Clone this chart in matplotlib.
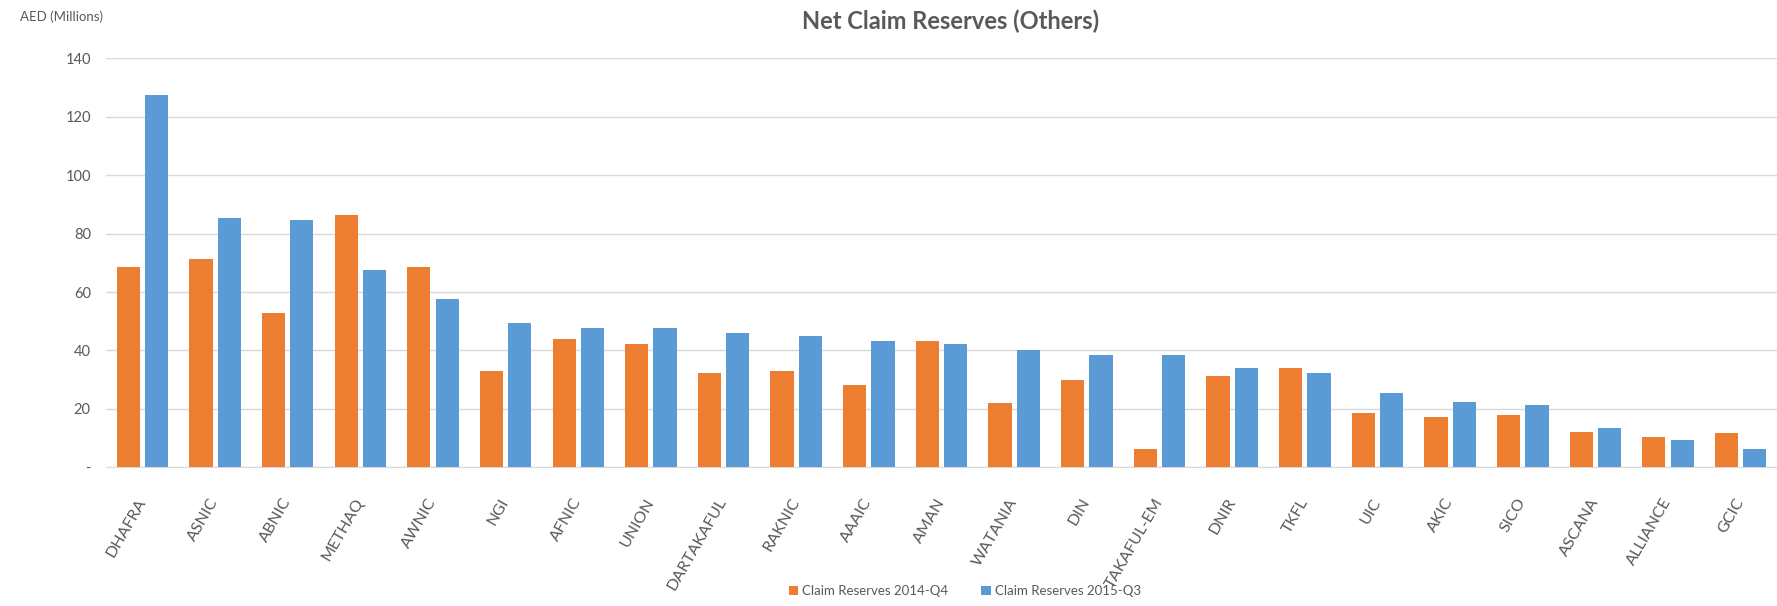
import matplotlib
matplotlib.use("Agg")
import matplotlib.pyplot as plt
import numpy as np

plt.rcParams['font.family'] = ['Lato', 'DejaVu Sans']

categories = ["DHAFRA", "ASNIC", "ABNIC", "METHAQ", "AWNIC", "NGI", "AFNIC", "UNION",
              "DARTAKAFUL", "RAKNIC", "AAAIC", "AMAN", "WATANIA", "DIN", "TAKAFUL-EM",
              "DNIR", "TKFL", "UIC", "AKIC", "SICO", "ASCANA", "ALLIANCE", "GCIC"]
reserves_2014_q4 = [68.6, 71.4, 52.9, 86.4, 68.6, 32.8, 43.8, 42.1, 32.2, 32.8, 28.2, 43.2,
                    21.9, 30.0, 6.3, 31.2, 34.1, 18.5, 17.3, 18.0, 12.1, 10.4, 11.6]
reserves_2015_q3 = [127.3, 85.4, 84.8, 67.4, 57.6, 49.5, 47.8, 47.8, 46.1, 44.9, 43.2, 42.1,
                    40.3, 38.5, 38.5, 34.1, 32.4, 25.4, 22.5, 21.4, 13.3, 9.3, 6.3]
series_labels = ["Claim Reserves 2014-Q4", "Claim Reserves 2015-Q3"]
yticks = [0, 20, 40, 60, 80, 100, 120, 140]
ytick_labels = ["-", "20", "40", "60", "80", "100", "120", "140"]

orange = "#ED7D31"
blue = "#5B9BD5"
text_col = "#595959"

fig = plt.figure(figsize=(17.77, 6.06), dpi=100)
ax = fig.add_axes([0.0597, 0.2289, 0.9403, 0.6749])

x = np.arange(len(categories))
w = 0.32
off = 0.195
ax.bar(x - off, reserves_2014_q4, width=w, color=orange, label=series_labels[0], zorder=3)
ax.bar(x + off, reserves_2015_q3, width=w, color=blue, label=series_labels[1], zorder=3)

ax.set_xlim(-0.5, len(categories) - 0.5)
ax.set_ylim(0, 140)
ax.set_yticks(yticks)
ax.set_yticklabels(ytick_labels, fontsize=10.5, color=text_col)
ax.yaxis.grid(True, color="#d9d9d9", linewidth=1.0, zorder=0)
ax.set_axisbelow(True)
for s in ["top", "right", "left"]:
    ax.spines[s].set_visible(False)
ax.spines["bottom"].set_color("#d9d9d9")
ax.tick_params(axis="y", length=0, pad=11)
ax.tick_params(axis="x", length=0, pad=23)

ax.set_xticks(x)
ax.set_xticklabels(categories, rotation=60, ha="right", va="center", rotation_mode="anchor",
                   fontsize=11.5, color=text_col)

fig.text(0.535, 0.965, "Net Claim Reserves (Others)", ha="center", va="center",
         fontsize=17, fontweight="bold", color=text_col)
fig.text(0.011, 0.972, "AED (Millions)", ha="left", va="center", fontsize=9.5, color=text_col)

fig.legend(loc="center", bbox_to_anchor=(0.543, 0.025), ncol=2, frameon=False,
           fontsize=9.5, handlelength=0.7, handleheight=0.7, handletextpad=0.3,
           columnspacing=2.5, labelcolor=text_col)

fig.savefig("out.png", dpi=100, facecolor="white")
